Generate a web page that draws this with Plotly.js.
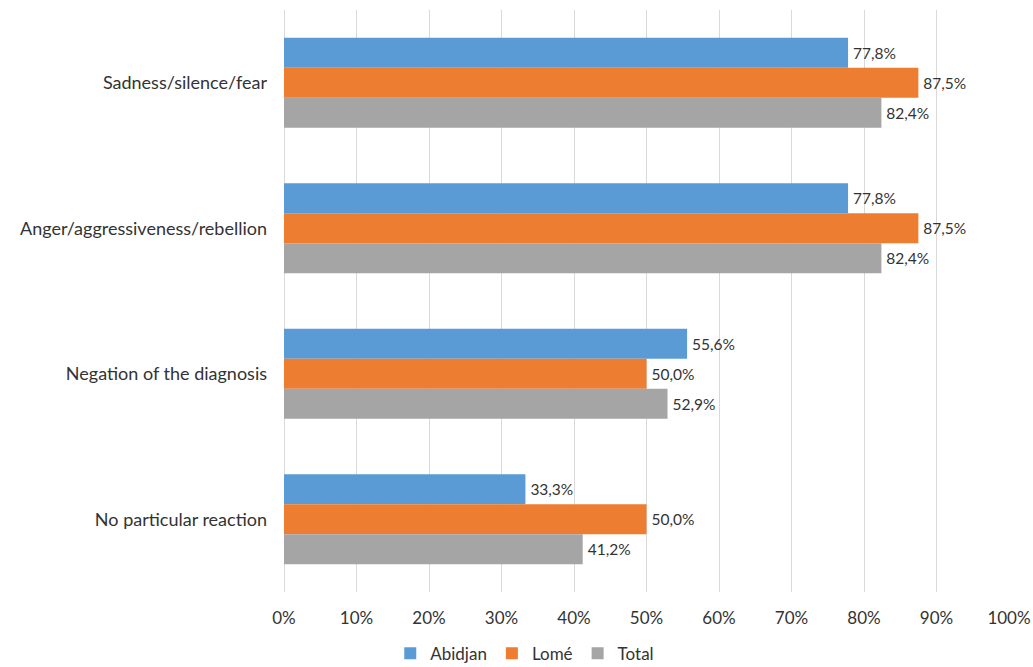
<!DOCTYPE html>
<html>
<head>
<meta charset="utf-8">
<script src="https://cdn.plot.ly/plotly-3.0.1.min.js"></script>
<style>html,body{margin:0;padding:0;background:#fff;}#chart{width:1033px;height:667px;}</style>
</head>
<body>
<div id="chart"></div>
<script>
const categories = ["Sadness/silence/fear", "Anger/aggressiveness/rebellion", "Negation of the diagnosis", "No particular reaction"];
const abidjan = [77.8, 77.8, 55.6, 33.3];
const lome = [87.5, 87.5, 50.0, 50.0];
const total = [82.4, 82.4, 52.9, 41.2];
const seriesNames = ["Abidjan", "Lomé", "Total"];
const seriesColors = ["#5B9BD5", "#ED7D31", "#A5A5A5"];
const tickVals = [0, 10, 20, 30, 40, 50, 60, 70, 80, 90, 100];
const tickText = tickVals.map(v => v + "%");

const fmt = v => "\u2009" + v.toFixed(1).replace(".", ",") + "%";
const font = "Lato, 'Open Sans', sans-serif";
const txt = "#333333";

const traces = [abidjan, lome, total].map((vals, i) => ({
  type: "bar",
  orientation: "h",
  name: seriesNames[i],
  y: categories,
  x: vals,
  text: vals.map(fmt),
  textposition: "outside",
  textfont: {family: font, size: 15.5, color: txt},
  cliponaxis: false,
  marker: {color: seriesColors[i]},
  hoverinfo: "skip"
}));

const layout = {
  width: 1033, height: 667,
  margin: {l: 284, r: 24, t: 10, b: 75},
  paper_bgcolor: "#fff", plot_bgcolor: "#fff",
  barmode: "group",
  bargap: 0.38,
  bargroupgap: 0,
  font: {family: font, color: txt},
  uniformtext: {mode: false},
  xaxis: {
    range: [0, 100],
    tickvals: tickVals, ticktext: tickText,
    showgrid: true, gridcolor: "#D9D9D9", gridwidth: 1,
    zeroline: true, zerolinecolor: "#D9D9D9",
    showline: false, ticks: "",
    ticklabelstandoff: 14,
    tickfont: {family: font, size: 17, color: txt},
    fixedrange: true
  },
  yaxis: {
    type: "category",
    categoryorder: "array", categoryarray: categories,
    autorange: "reversed",
    showgrid: false, zeroline: false, showline: false, ticks: "",
    ticklabelstandoff: 16,
    tickfont: {family: font, size: 18, color: txt},
    fixedrange: true
  },
  showlegend: true,
  legend: {
    orientation: "h",
    xref: "container", yref: "container",
    x: 0.508, xanchor: "center",
    y: 0.02, yanchor: "middle",
    font: {family: font, size: 17, color: txt},
    itemwidth: 30,
    tracegroupgap: 0
  }
};

Plotly.newPlot("chart", traces, layout, {displayModeBar: false, staticPlot: true});
</script>
</body>
</html>
